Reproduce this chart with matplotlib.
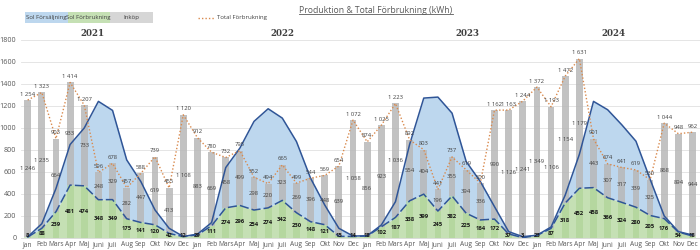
import matplotlib
matplotlib.use("Agg")
import matplotlib.pyplot as plt
import numpy as np
from matplotlib.patches import Rectangle
from matplotlib.lines import Line2D
import matplotlib.transforms as mtransforms

months = ["Jan", "Feb", "Mars", "Apr", "Maj", "Juni", "Juli", "Aug", "Sep", "Okt", "Nov", "Dec"]
years = ["2021", "2022", "2023", "2024"]

sol_forbrukning = [
    8, 88, 239, 481, 474, 348, 349, 175, 141, 120, 42, 12,
    29, 111, 274, 296, 254, 274, 342, 230, 148, 121, 15, 14,
    18, 102, 187, 338, 399, 245, 382, 225, 164, 172, 37, 3,
    23, 87, 318, 452, 458, 366, 324, 280, 205, 176, 54, 18,
]
inkop = [
    1246, 1235, 664, 933, 733, 248, 329, 282, 447, 619, 413, 1108,
    883, 669, 458, 499, 298, 220, 323, 269, 396, 448, 639, 1058,
    856, 923, 1036, 554, 404, 196, 355, 394, 336, 990, 1126, 1241,
    1349, 1106, 1154, 1179, 443, 307, 317, 339, 325, 868, 894, 944,
]
total_forbrukning = [
    1254, 1323, 903, 1414, 1207, 596, 678, 457, 588, 739, 455, 1120,
    912, 780, 732, 795, 552, 494, 665, 499, 544, 569, 654, 1072,
    874, 1025, 1223, 892, 803, 441, 737, 619, 500, 1162, 1163, 1244,
    1372, 1193, 1472, 1631, 901, 674, 641, 619, 530, 1044, 948, 962,
]
sol_forsaljning = [
    2, 42, 211, 369, 526, 894, 811, 535, 372, 135, 46, 2,
    6, 29, 366, 521, 806, 901, 748, 647, 395, 179, 73, 4,
    2, 16, 143, 512, 873, 1036, 753, 470, 349, 113, 21, 9,
    2, 13, 72, 308, 784, 800, 705, 600, 330, 24, 4, 9,
]

# layout
year_label_pos = [4.6, 18.0, 31.1, 41.4]

def fmt(v):
    return f"{v:,}".replace(",", " ")

plt.rcParams['font.family'] = ['Open Sans', 'DejaVu Sans']

fig = plt.figure(figsize=(7, 2.5), dpi=100)
ax = fig.add_axes([20.6 / 700, 12 / 250, 679 / 700, 198 / 250])

x = np.arange(len(sol_forbrukning))
green = np.array(sol_forbrukning)
sale = np.array(sol_forsaljning)
buy = np.array(inkop)
tot = np.array(total_forbrukning)

blue_fill = '#BDD7EE'
green_fill = '#C5E0B4'
line_blue = '#2F5597'

ax.fill_between(x, green, green + sale, color=blue_fill, zorder=1, lw=0)
ax.fill_between(x, 0, green, color=green_fill, zorder=1, lw=0)

bw = 0.48
ax.bar(x, green, width=bw, color='#A9D18E', alpha=0.55, zorder=2, lw=0)
ax.bar(x, buy, bottom=green, width=bw, color='#B8B8B8', alpha=0.85, zorder=2, lw=0)

ax.plot(x, green + sale, color=line_blue, lw=1.1, zorder=3)
ax.plot(x, green, color=line_blue, lw=1.1, ls=(0, (6, 2)), zorder=3)
ax.plot(x, tot, color='#D98A4E', lw=1.0, ls=(0, (1, 1.5)), zorder=4)

for i in range(len(x)):
    ax.annotate(fmt(tot[i]), (x[i], tot[i]), xytext=(0, 2.5), textcoords='offset points',
                ha='center', va='bottom', fontsize=4.2, color='#404040', zorder=6)
    ax.text(x[i], green[i] + buy[i] / 2, fmt(buy[i]), ha='center', va='center',
            fontsize=4.2, color='#404040', zorder=6)
    ax.text(x[i], max(green[i] / 2, 22), fmt(green[i]), ha='center', va='center',
            fontsize=4.2, color='#1a1a1a', fontweight='bold', zorder=6)

ax.set_xlim(-0.5, len(x) - 0.5)
ax.set_ylim(0, 1800)
ax.set_yticks(np.arange(0, 1801, 200))
ax.set_xticks(x)
ax.set_xticklabels(months * 4)
ax.tick_params(axis='both', length=0, labelsize=4.8, colors='#595959', pad=2)
ax.tick_params(axis='y', labelsize=5.2, pad=3)
ax.grid(axis='y', color='#E0E0E0', lw=0.6, zorder=0)
ax.set_axisbelow(True)
for s in ['top', 'right', 'left']:
    ax.spines[s].set_visible(False)
ax.spines['bottom'].set_color('#D9D9D9')
ax.spines['bottom'].set_linewidth(0.6)

trans = mtransforms.blended_transform_factory(ax.transData, ax.transAxes)
for yr, pos in zip(years, year_label_pos):
    ax.text(pos, 1.035, yr, transform=trans, ha='center', va='center',
            fontsize=6.3, fontweight='bold', family='DejaVu Serif', color='#404040')

# legend boxes
legend_items = [("Sol Försäljning", blue_fill), ("Sol Förbrukning", green_fill), ("Inköp", '#D6D6D6')]
bx0, bw_px, by0, bh_px = 25, 42.5, 12.5, 10.5
for k, (lab, col) in enumerate(legend_items):
    x0 = bx0 + k * bw_px
    fig.patches.append(Rectangle((x0 / 700, 1 - (by0 + bh_px) / 250), bw_px / 700, bh_px / 250,
                                 transform=fig.transFigure, facecolor=col, edgecolor='none'))
    fig.text((x0 + bw_px / 2) / 700, 1 - (by0 + bh_px / 2) / 250, lab, ha='center', va='center',
             fontsize=4.3, color='#404040')
fig.lines.append(Line2D([198 / 700, 215 / 700], [1 - 17.5 / 250] * 2, transform=fig.transFigure,
                        color='#D98A4E', lw=1.0, ls=(0, (1, 1.5))))
fig.text(217 / 700, 1 - 17.5 / 250, "Total Förbrukning", ha='left', va='center', fontsize=4.3, color='#404040')

title = fig.text(376 / 700, 1 - 10.5 / 250, "Produktion & Total Förbrukning (kWh)", ha='center',
                 va='center', fontsize=6.2, color='#595959')
fig.canvas.draw()
bb = title.get_window_extent().transformed(fig.transFigure.inverted())
fig.lines.append(Line2D([bb.x0, bb.x1], [bb.y0 + 0.002, bb.y0 + 0.002], transform=fig.transFigure,
                        color='#595959', lw=0.6))

fig.savefig("out.png", dpi=100)
